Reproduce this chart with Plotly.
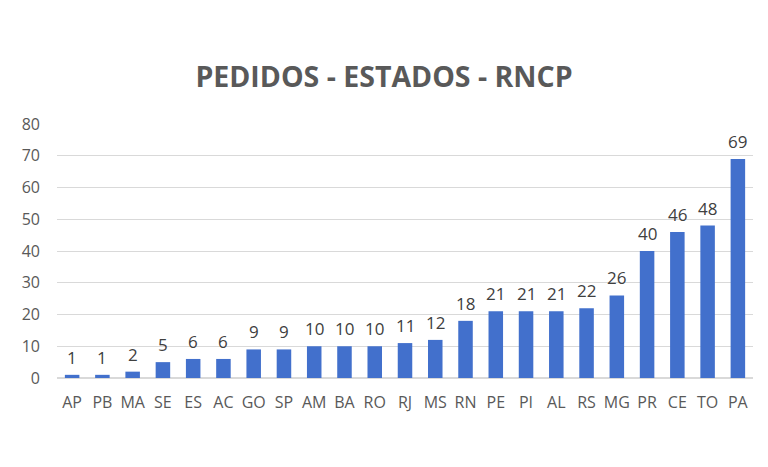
import plotly.graph_objects as go

estados = ["AP","PB","MA","SE","ES","AC","GO","SP","AM","BA","RO","RJ","MS","RN","PE","PI","AL","RS","MG","PR","CE","TO","PA"]
pedidos = [1,1,2,5,6,6,9,9,10,10,10,11,12,18,21,21,21,22,26,40,46,48,69]

fig = go.Figure(go.Bar(
    x=estados, y=pedidos,
    marker=dict(color="#4270CC", line=dict(width=0)),
))
for e, v in zip(estados, pedidos):
    fig.add_annotation(x=e, y=v, text=str(v), showarrow=False, yanchor="bottom", yshift=4,
                       font=dict(size=17, color="#404040", family="Open Sans"))
fig.update_layout(
    width=768, height=467,
    margin=dict(l=57, r=15, t=124, b=89),
    paper_bgcolor="white", plot_bgcolor="white",
    bargap=0.52,
    title=dict(text="<b>PEDIDOS - ESTADOS - RNCP</b>", x=0.5, xanchor="center", y=0.835, yanchor="middle",
               font=dict(size=28.5, color="#595959", family="Open Sans")),
    font=dict(family="Open Sans", color="#595959", size=16),
    showlegend=False,
)
fig.update_yaxes(range=[0,80], dtick=10, showgrid=True, gridcolor="#D9D9D9", gridwidth=1,
                 zeroline=True, zerolinecolor="#D9D9D9", ticks="", ticklabelstandoff=16,
                 tickfont=dict(size=16, color="#595959", family="Open Sans"))
fig.update_xaxes(showgrid=False, ticks="", showline=True, linecolor="#D9D9D9",
                 tickfont=dict(size=16, color="#595959", family="Open Sans"), ticklabelstandoff=10)
fig.write_html("out.html")
